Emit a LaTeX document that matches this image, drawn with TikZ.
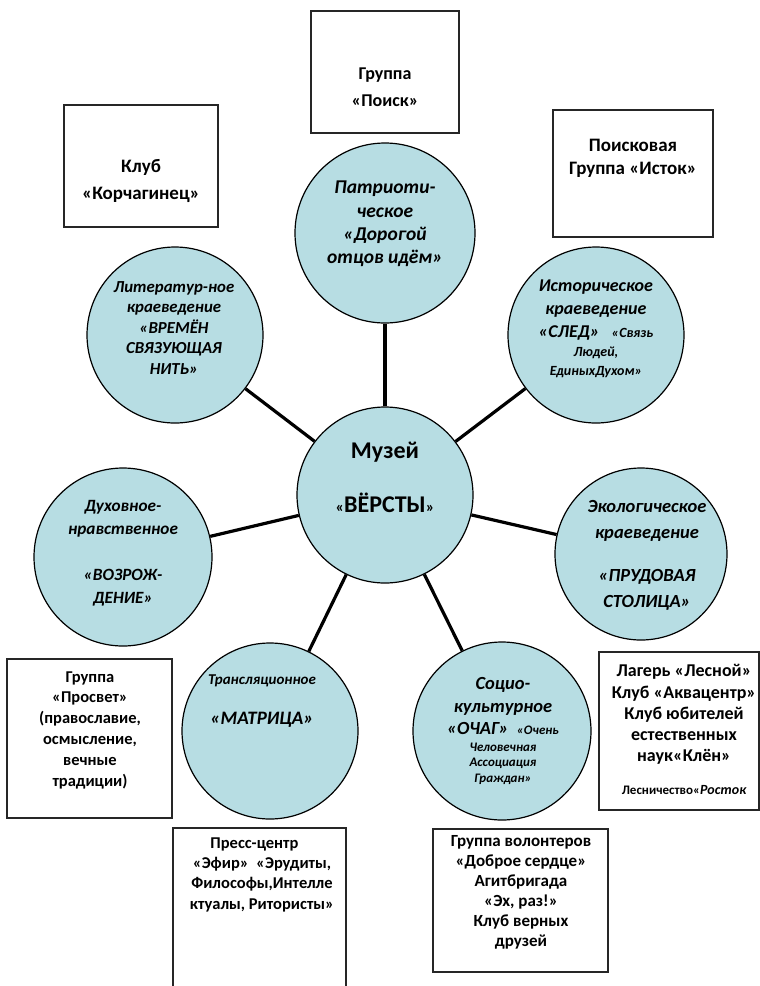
\documentclass[tikz,border=0pt]{standalone}
\usepackage{fontspec}
\setmainfont{Carlito}
\definecolor{cfill}{RGB}{183,221,227}
\begin{document}
\begin{tikzpicture}[x=1pt,y=-1pt,
  circ/.style={circle,draw=black,line width=1.2pt,fill=cfill,inner sep=0pt,minimum size=#1},
  box/.style={draw=black!85,line width=1.3pt,fill=white,rectangle,inner sep=0pt},
  conn/.style={line width=3.2pt,black},
  bt/.style={font=\bfseries\fontsize{16.5}{20.5}\selectfont,align=center,inner sep=0pt},
  ct/.style={font=\bfseries\itshape\fontsize{18}{23}\selectfont,align=center,inner sep=0pt}]
\fill[white] (0,0) rectangle (760,986);
\useasboundingbox (0,0) rectangle (760,986);

% boxes
\node[box,minimum width=148pt,minimum height=122pt] (poiskB) at (385,72) {};
\node[box,minimum width=154pt,minimum height=122pt] (korchB) at (141,166) {};
\node[box,minimum width=160pt,minimum height=127pt] (istokB) at (633,173.5) {};
\node[box,minimum width=165pt,minimum height=159pt] (prosvB) at (89.5,738.5) {};
\node[box,minimum width=160pt,minimum height=158pt] (lagB) at (679,731) {};
\node[box,minimum width=173pt,minimum height=170pt] (pressB) at (259.5,913) {};
\node[box,minimum width=175pt,minimum height=143pt] (volB) at (520.5,900.5) {};

% circles
\node[circ=180pt] (patr) at (385,233) {};
\node[circ=176pt] (ist) at (596,335) {};
\node[circ=176pt] (lit) at (175,335) {};
\node[circ=178pt] (duh) at (123,557) {};
\node[circ=172pt] (eko) at (641,554) {};
\node[circ=176pt] (mus) at (385,495) {};
\node[circ=176pt] (trans) at (270,731) {};
\node[circ=178pt] (soc) at (502,731) {};

% connectors
\draw[conn] (mus) -- (patr);
\draw[conn] (mus) -- (ist);
\draw[conn] (mus) -- (lit);
\draw[conn] (mus) -- (duh);
\draw[conn] (mus) -- (eko);
\draw[conn] (mus) -- (trans);
\draw[conn] (mus) -- (soc);

% circle texts
\node[ct,font=\bfseries\itshape\fontsize{19.5}{23.3}\selectfont] (patrT) at (385,224) {Патриоти-\\ческое\\«Дорогой\\отцов идём»};
\node[ct] (istT) at (596,310) {Историческое\\краеведение\\«СЛЕД»\ \ \ {\fontsize{14}{17}\selectfont«Связь}};
\node[ct,font=\bfseries\itshape\fontsize{14}{19}\selectfont] (istT2) at (596,362.5) {Людей,\\ЕдиныхДухом»};
\node[ct,font=\bfseries\itshape\fontsize{16.8}{20.5}\selectfont] (litT) at (174,328) {Литератур-ное\\краеведение\\«ВРЕМЁН\\СВЯЗУЮЩАЯ\\НИТЬ»};
\node[ct,font=\bfseries\itshape\fontsize{17.2}{23}\selectfont] (duhT) at (123,553.5) {Духовное-\\нравственное\\[23pt]«ВОЗРОЖ-\\ДЕНИЕ»};
\node[ct,font=\bfseries\itshape\fontsize{18.5}{26}\selectfont] (ekoT) at (647,555) {Экологическое\\краеведение\\[17pt]«ПРУДОВАЯ\\СТОЛИЦА»};
\node[ct,font=\bfseries\itshape\fontsize{15}{17}\selectfont] (transT) at (262,681) {Трансляционное};
\node[ct,font=\bfseries\itshape\fontsize{19}{22}\selectfont] (transT2) at (262,720) {«МАТРИЦА»};
\node[ct,font=\bfseries\itshape\fontsize{18.5}{22.5}\selectfont] (socT) at (503,706) {Социо-\\культурное\\«ОЧАГ»\ \ {\fontsize{13}{15}\selectfont«Очень}};
\node[ct,font=\bfseries\itshape\fontsize{13}{15.5}\selectfont] (socT2) at (503,763.5) {Человечная\\Ассоциация\\Граждан»};
\node[bt,font=\bfseries\fontsize{24}{28}\selectfont] (musT) at (385,452) {Музей};
\node[bt,font=\bfseries\fontsize{24}{28}\selectfont] (musT2) at (385,503) {{\fontsize{16}{16}\selectfont«}ВЁРСТЫ{\fontsize{16}{16}\selectfont»}};

% box texts
\node[bt,font=\bfseries\fontsize{18}{27}\selectfont] (poiskT) at (385,87) {Группа\\«Поиск»};
\node[bt,font=\bfseries\fontsize{19}{27}\selectfont] (korchT) at (141,181) {Клуб\\«Корчагинец»};
\node[bt,font=\bfseries\fontsize{19}{23}\selectfont] (istokT) at (633,158.5) {Поисковая\\Группа «Исток»};
\node[bt,font=\bfseries\fontsize{16.5}{20.8}\selectfont] (prosvT) at (90,730) {Группа\\«Просвет»\\(православие,\\осмысление,\\вечные\\традиции)};
\node[bt,font=\bfseries\fontsize{18}{21.2}\selectfont] (lagT) at (684,714.5) {Лагерь «Лесной»\\Клуб «Аквацентр»\\Клуб юбителей\\естественных\\наук«Клён»};
\node[bt,font=\bfseries\fontsize{13}{15}\selectfont] (lagT2) at (684,790) {Лесничество«{\itshape\fontsize{14}{15}\selectfont Росток}};
\node[bt,font=\bfseries\fontsize{16.5}{20.3}\selectfont] (pressT) at (262,874.5) {Пресс-центр\kern15pt\\«Эфир»\ \ «Эрудиты,\\Философы,Интелле\\ктуалы, Ритористы»};
\node[bt,font=\bfseries\fontsize{17}{20}\selectfont] (volT) at (521,892) {Группа волонтеров\\«Доброе сердце»\\Агитбригада\\«Эх, раз!»\\Клуб верных\\друзей};
\end{tikzpicture}
\end{document}
